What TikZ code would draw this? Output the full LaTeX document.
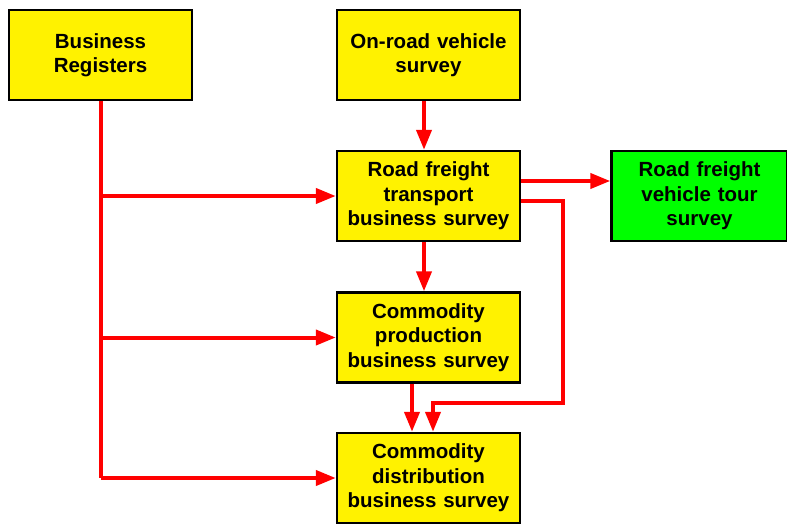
\documentclass[tikz,border=0pt]{standalone}
\usepackage{fontspec}
\setmainfont{Liberation Sans}
\usetikzlibrary{arrows.meta}
\begin{document}
\begin{tikzpicture}[x=1pt,y=-1pt,
  box/.style={draw=black,line width=2.4pt,fill=yellow,minimum width=183pt,minimum height=90pt,
    align=center,font=\fontsize{20.5}{24.5}\selectfont\bfseries,inner sep=0pt,text width=180pt},
  gbox/.style={box,fill=green},
  conn/.style={draw=red,line width=4pt,-{Triangle[length=20pt,width=15pt]}},
  plain/.style={draw=red,line width=4pt}]
\useasboundingbox (0,0) rectangle (787,525);
\node[box] (br) at (100.5,55) {Business\\Registers};
\node[box] (ov) at (428.5,55) {On-road vehicle\\survey};
\node[box] (rf) at (428.5,196) {Road freight\\transport\\business survey};
\node[box] (cp) at (428.5,337.5) {Commodity\\production\\business survey};
\node[box] (cd) at (428.5,478) {Commodity\\distribution\\business survey};
\node[gbox,minimum width=176pt,text width=172pt] (vt) at (699.5,196) {Road freight\\vehicle tour\\survey};
\coordinate (j1) at (101,196);
\coordinate (j2) at (101,337.5);
\coordinate (j3) at (101,478);
\coordinate (k1) at (563,201);
\coordinate (k2) at (563,403);
\coordinate (k3) at (433,403);
\draw[plain] (br.south -| j1) -- (j3);
\draw[conn] (j1) -- (rf.west);
\draw[conn] (j2) -- (cp.west);
\draw[conn] (j3) -- (cd.west);
\draw[conn] (ov.south -| 424,0) -- (rf.north -| 424,0);
\draw[conn] (rf.south -| 424,0) -- (cp.north -| 424,0);
\draw[conn] (cp.south -| 412,0) -- (cd.north -| 412,0);
\draw[conn] (rf.east |- 0,181) -- (vt.west |- 0,181);
\draw[conn] (rf.east |- k1) -- (k1) -- (k2) -- (k3) -- (cd.north -| k3);
\end{tikzpicture}
\end{document}
